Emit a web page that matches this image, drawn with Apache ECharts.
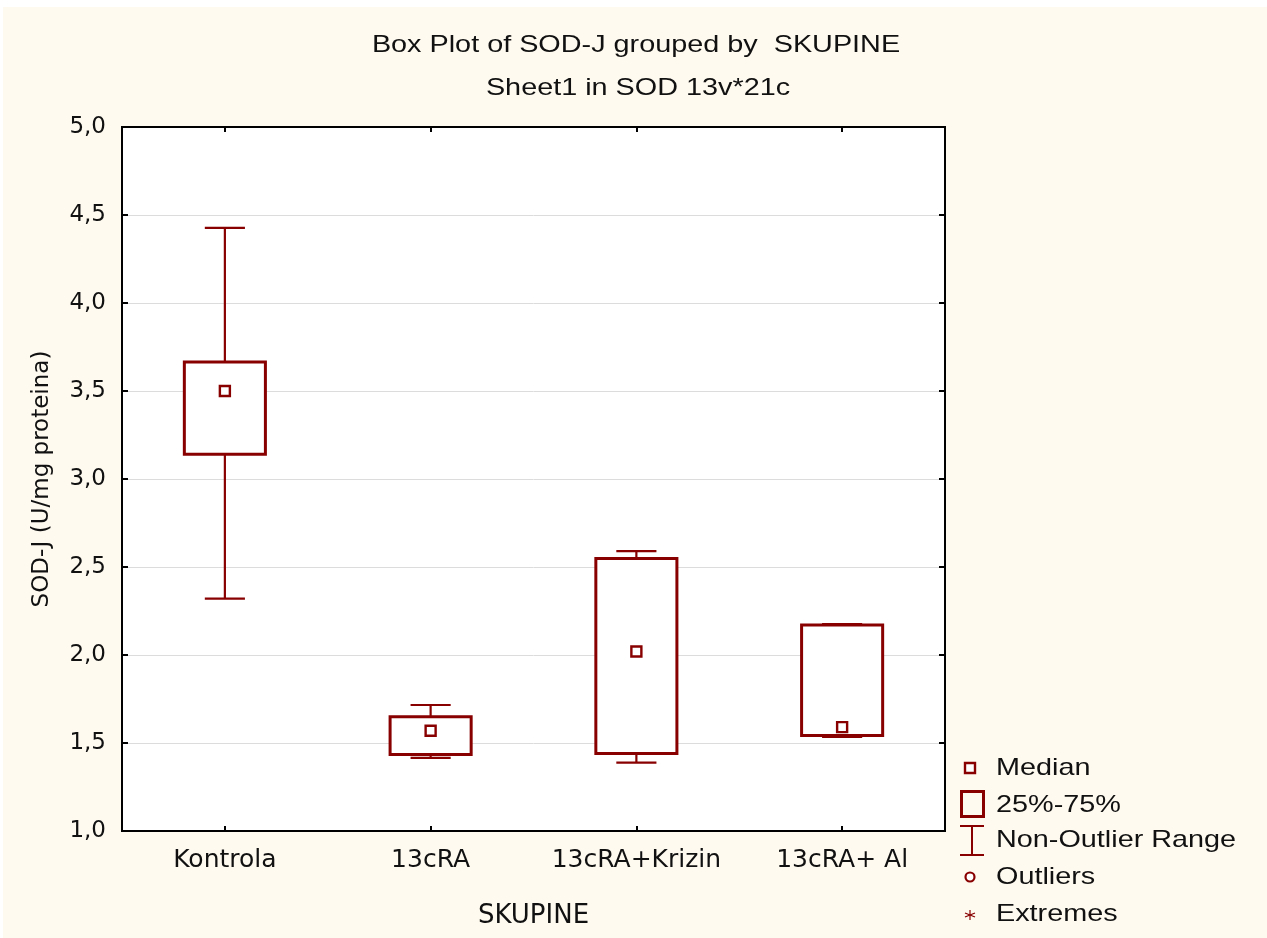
<!DOCTYPE html>
<html>
<head>
<meta charset="utf-8">
<script src="https://cdn.jsdelivr.net/npm/echarts@6/dist/echarts.min.js"></script>
<style>
html,body{margin:0;padding:0;background:#ffffff;}
#chart{width:1267px;height:938px;}
</style>
</head>
<body>
<div id="chart"></div>
<script>
const categories = ['Kontrola', '13cRA', '13cRA+Krizin', '13cRA+ Al'];
const whiskerMin = [2.32, 1.416, 1.389, 1.535];
const q1 = [3.14, 1.435, 1.44, 1.542];
const median = [3.50, 1.57, 2.02, 1.59];
const q3 = [3.665, 1.649, 2.548, 2.17];
const whiskerMax = [4.427, 1.716, 2.59, 2.176];
const yTickLabels = ['1,0', '1,5', '2,0', '2,5', '3,0', '3,5', '4,0', '4,5', '5,0'];
const titleLines = ['Box Plot of SOD-J grouped by  SKUPINE', 'Sheet1 in SOD 13v*21c'];
const legendItems = ['Median', '25%-75%', 'Non-Outlier Range', 'Outliers', 'Extremes'];

const RED = '#880000';
const CREAM = '#fffaf0';

const boxData = categories.map((c, i) => [i, whiskerMin[i], q1[i], median[i], q3[i], whiskerMax[i]]);

function renderBox(params, api) {
  const i = api.value(0);
  const pMin = api.coord([i, api.value(1)]);
  const pQ1 = api.coord([i, api.value(2)]);
  const pMed = api.coord([i, api.value(3)]);
  const pQ3 = api.coord([i, api.value(4)]);
  const pMax = api.coord([i, api.value(5)]);
  const band = api.size([1, 0])[0];
  const bw = band * 0.394;
  const cw = band * 0.195;
  const x = pMed[0];
  const ms = 10;
  return {
    type: 'group',
    children: [
      { type: 'line', shape: { x1: x, y1: pMax[1], x2: x, y2: pMin[1] }, style: { stroke: RED, lineWidth: 2.2 } },
      { type: 'line', shape: { x1: x - cw / 2, y1: pMax[1], x2: x + cw / 2, y2: pMax[1] }, style: { stroke: RED, lineWidth: 2.2 } },
      { type: 'line', shape: { x1: x - cw / 2, y1: pMin[1], x2: x + cw / 2, y2: pMin[1] }, style: { stroke: RED, lineWidth: 2.2 } },
      { type: 'rect', shape: { x: x - bw / 2, y: pQ3[1], width: bw, height: pQ1[1] - pQ3[1] }, style: { fill: '#ffffff', stroke: RED, lineWidth: 3 } },
      { type: 'rect', shape: { x: x - ms / 2, y: pMed[1] - ms / 2, width: ms, height: ms }, style: { fill: '#ffffff', stroke: RED, lineWidth: 2.4 } }
    ]
  };
}

const legendY = [768, 805, 840, 877, 914];
const legendGraphics = [];
legendGraphics.push({ type: 'rect', shape: { x: 965, y: legendY[0] - 5, width: 10, height: 10 }, style: { fill: '#fff', stroke: RED, lineWidth: 2.4 } });
legendGraphics.push({ type: 'rect', shape: { x: 961.5, y: 791.5, width: 22, height: 25 }, style: { fill: 'none', stroke: RED, lineWidth: 3 } });
legendGraphics.push({ type: 'line', shape: { x1: 960, y1: 826, x2: 984, y2: 826 }, style: { stroke: RED, lineWidth: 2 } });
legendGraphics.push({ type: 'line', shape: { x1: 960, y1: 855, x2: 984, y2: 855 }, style: { stroke: RED, lineWidth: 2 } });
legendGraphics.push({ type: 'line', shape: { x1: 972, y1: 826, x2: 972, y2: 855 }, style: { stroke: RED, lineWidth: 2 } });
legendGraphics.push({ type: 'circle', shape: { cx: 970, cy: legendY[3], r: 4.5 }, style: { fill: '#fff', stroke: RED, lineWidth: 2.2 } });
[[0, -5, 0, 5], [-5, -2, 5, 2], [-5, 2, 5, -2]].forEach(s => {
  legendGraphics.push({ type: 'line', shape: { x1: 970 + s[0], y1: legendY[4] + s[1] + 1, x2: 970 + s[2], y2: legendY[4] + s[3] + 1 }, style: { stroke: RED, lineWidth: 1.2 } });
});
legendItems.forEach((t, k) => {
  legendGraphics.push({ type: 'text', x: 996, y: legendY[k], scaleX: 1.2, style: { text: t, fill: '#111', font: '24px "Liberation Sans", Arial, sans-serif', align: 'left', verticalAlign: 'middle' } });
});

const chart = echarts.init(document.getElementById('chart'), null, { renderer: 'canvas' });
chart.setOption({
  backgroundColor: CREAM,
  animation: false,
  graphic: [
    { type: 'rect', shape: { x: 0, y: 0, width: 1267, height: 7 }, style: { fill: '#ffffff' }, z: -10 },
    { type: 'rect', shape: { x: 0, y: 0, width: 3, height: 938 }, style: { fill: '#ffffff' }, z: -10 },
    { type: 'text', x: 636, y: 45, scaleX: 1.2, style: { text: titleLines[0], fill: '#111', font: '24px "Liberation Sans", Arial, sans-serif', align: 'center', verticalAlign: 'middle' } },
    { type: 'text', x: 638, y: 88, scaleX: 1.2, style: { text: titleLines[1], fill: '#111', font: '24px "Liberation Sans", Arial, sans-serif', align: 'center', verticalAlign: 'middle' } }
  ].concat(legendGraphics),
  grid: { left: 122, top: 127, width: 823, height: 704, show: true, backgroundColor: '#ffffff', borderColor: '#000', borderWidth: 2 },
  xAxis: [
    {
      type: 'category', data: categories, position: 'bottom', boundaryGap: true,
      name: 'SKUPINE', nameLocation: 'middle', nameGap: 72,
      nameTextStyle: { fontFamily: 'DejaVu Sans', fontSize: 26, color: '#111' },
      axisLine: { show: true, lineStyle: { color: '#000', width: 2 } },
      axisTick: { show: true, inside: true, alignWithLabel: true, interval: 0, length: 5, lineStyle: { color: '#000', width: 2 } },
      axisLabel: { interval: 0, margin: 17, fontFamily: 'DejaVu Sans', fontSize: 25, color: '#111', hideOverlap: false },
      splitLine: { show: false }
    },
    {
      type: 'category', data: categories, position: 'top', boundaryGap: true,
      axisLine: { show: true, lineStyle: { color: '#000', width: 2 } },
      axisTick: { show: true, inside: true, alignWithLabel: true, interval: 0, length: 5, lineStyle: { color: '#000', width: 2 } },
      axisLabel: { show: false },
      splitLine: { show: false }
    }
  ],
  yAxis: [
    {
      type: 'value', min: 1, max: 5, interval: 0.5, position: 'left',
      name: 'SOD-J (U/mg proteina)', nameLocation: 'middle', nameGap: 68, nameRotate: 90,
      nameTextStyle: { fontFamily: 'DejaVu Sans', fontSize: 23, color: '#111' },
      axisLine: { show: true, lineStyle: { color: '#000', width: 2 } },
      axisTick: { show: true, inside: true, length: 6, lineStyle: { color: '#000', width: 2 } },
      axisLabel: { margin: 16, fontFamily: 'DejaVu Sans', fontSize: 23, color: '#111', formatter: v => yTickLabels[Math.round((v - 1) / 0.5)] },
      splitLine: { show: true, lineStyle: { color: '#dcdcdc', width: 1 } }
    },
    {
      type: 'value', min: 1, max: 5, interval: 0.5, position: 'right',
      axisLine: { show: true, lineStyle: { color: '#000', width: 2 } },
      axisTick: { show: true, inside: true, length: 6, lineStyle: { color: '#000', width: 2 } },
      axisLabel: { show: false },
      splitLine: { show: false }
    }
  ],
  series: [
    {
      type: 'custom', name: 'SOD-J', xAxisIndex: 0, yAxisIndex: 0,
      renderItem: renderBox,
      encode: { x: 0, y: [1, 2, 3, 4, 5] },
      data: boxData,
      z: 5
    }
  ]
});
</script>
</body>
</html>
